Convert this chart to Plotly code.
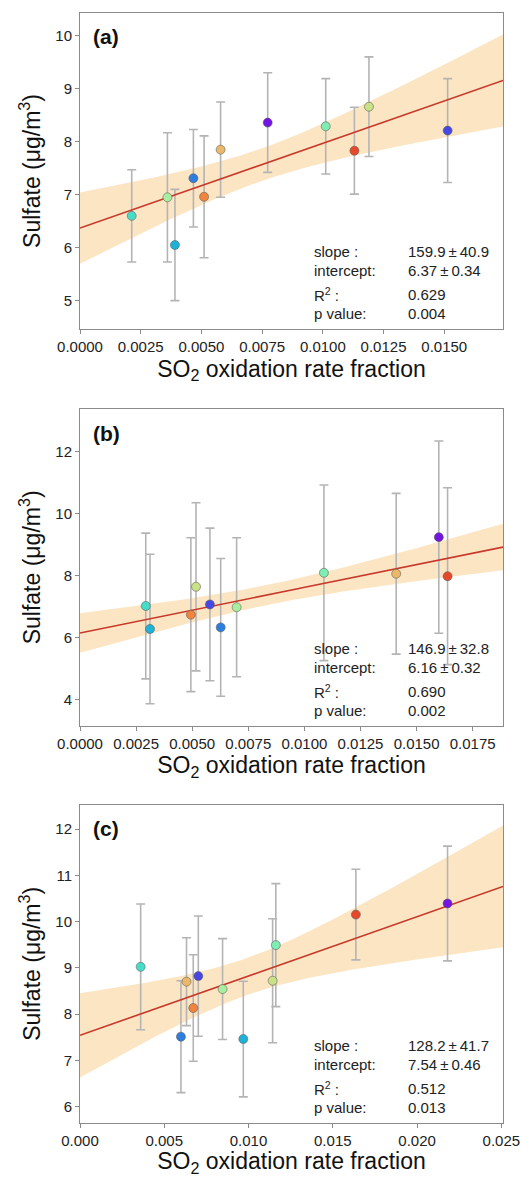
import numpy as np
import plotly.graph_objects as go

# ---------------- data ----------------
# Panel (a)
a_x = [0.00213, 0.00360, 0.00391, 0.00467, 0.00511, 0.00579, 0.00773, 0.01012, 0.01130, 0.01190, 0.01514]
a_y = [6.60, 6.95, 6.05, 7.31, 6.96, 7.85, 8.36, 8.29, 7.83, 8.66, 8.21]
a_err = [0.87, 1.22, 1.05, 0.92, 1.15, 0.90, 0.94, 0.90, 0.82, 0.94, 0.98]
a_col = ["turquoise", "lightgreen", "cyan", "blue", "orange", "lightorange", "purple", "aquamarine", "red", "yellowgreen", "blueviolet"]
a_stats = {"slope": 159.9, "slope_se": 40.9, "intercept": 6.37, "intercept_se": 0.34, "r2": "0.629", "p": "0.004"}

# Panel (b)
b_x = [0.00293, 0.00312, 0.00494, 0.00517, 0.00579, 0.00627, 0.00698, 0.01087, 0.01409, 0.01599, 0.01638]
b_y = [7.03, 6.29, 6.75, 7.65, 7.08, 6.34, 6.99, 8.10, 8.07, 9.25, 7.99]
b_err = [2.35, 2.41, 2.48, 2.71, 2.46, 2.22, 2.24, 2.83, 2.59, 3.10, 2.85]
b_col = ["turquoise", "cyan", "orange", "yellowgreen", "blueviolet", "blue", "lightgreen", "aquamarine", "lightorange", "purple", "red"]
b_stats = {"slope": 146.9, "slope_se": 32.8, "intercept": 6.16, "intercept_se": 0.32, "r2": "0.690", "p": "0.002"}

# Panel (c)
c_x = [0.00360, 0.00599, 0.00632, 0.00672, 0.00702, 0.00846, 0.00969, 0.01143, 0.01162, 0.01637, 0.02181]
c_y = [9.02, 7.51, 8.70, 8.13, 8.82, 8.54, 7.46, 8.72, 9.49, 10.15, 10.39]
c_err = [1.36, 1.21, 0.95, 1.15, 1.30, 1.09, 1.25, 1.34, 1.33, 0.98, 1.24]
c_col = ["turquoise", "blue", "lightorange", "orange", "blueviolet", "lightgreen", "cyan", "yellowgreen", "aquamarine", "red", "purple"]
c_stats = {"slope": 128.2, "slope_se": 41.7, "intercept": 7.54, "intercept_se": 0.46, "r2": "0.512", "p": "0.013"}

panel_labels = ["(a)", "(b)", "(c)"]
x_title = "SO<sub>2</sub> oxidation rate fraction"
y_title = "Sulfate (μg/m<sup>3</sup>)"

# ---------------- styles ----------------
palette = {
    "purple": "#7314E3", "blueviolet": "#4747E3", "blue": "#2D7EDF", "cyan": "#1FB2D9",
    "turquoise": "#46DCC8", "aquamarine": "#7DEDB2", "lightgreen": "#A8EEA0",
    "yellowgreen": "#C9E187", "lightorange": "#EAB86A", "orange": "#EF843F", "red": "#E6482A",
}
FONT = "Liberation Sans, Arial, Helvetica, sans-serif"
BAND = "#FCE5C3"
LINE = "#C8382A"
FRAME = "#8A8A8A"
T_MULT = 1.98

xranges = [[0, 0.01742], [0, 0.01885], [0, 0.0251]]
yranges = [[4.465, 10.43], [3.17, 13.38], [5.65, 12.52]]
xdticks = [0.0025, 0.0025, 0.005]
xfmts = [".4f", ".4f", ".3f"]
ydticks = [1, 2, 1]
ydomains = [[0.7205, 0.9890], [0.3834, 0.6525], [0.0461, 0.3161]]
xdomain = [80 / 521, 503 / 521]

panels = [
    (a_x, a_y, a_err, a_col, a_stats),
    (b_x, b_y, b_err, b_col, b_stats),
    (c_x, c_y, c_err, c_col, c_stats),
]

fig = go.Figure()
annotations = []

for i, (px, py, perr, pcol, st) in enumerate(panels):
    n = "" if i == 0 else str(i + 1)
    xa, ya = "x" + n, "y" + n
    xbar = float(np.mean(px))
    xs = np.linspace(xranges[i][0], xranges[i][1], 200)
    yfit = st["intercept"] + st["slope"] * xs
    var = st["intercept_se"] ** 2 + st["slope_se"] ** 2 * (xs ** 2 - 2 * xs * xbar)
    half = T_MULT * np.sqrt(np.clip(var, 0, None))
    # confidence band
    fig.add_trace(go.Scatter(x=xs, y=yfit + half, mode="lines", line=dict(width=0, color=BAND),
                             xaxis=xa, yaxis=ya, hoverinfo="skip"))
    fig.add_trace(go.Scatter(x=xs, y=yfit - half, mode="lines", line=dict(width=0, color=BAND),
                             fill="tonexty", fillcolor=BAND, xaxis=xa, yaxis=ya, hoverinfo="skip"))
    # error bars
    fig.add_trace(go.Scatter(x=px, y=py, mode="markers", marker=dict(size=1, opacity=0),
                             error_y=dict(type="data", array=perr, visible=True, color="#B4B4B4",
                                          thickness=1.6, width=4.5),
                             xaxis=xa, yaxis=ya))
    # regression line
    fig.add_trace(go.Scatter(x=xs, y=yfit, mode="lines", line=dict(color=LINE, width=1.6),
                             xaxis=xa, yaxis=ya))
    # points
    fig.add_trace(go.Scatter(x=px, y=py, mode="markers",
                             marker=dict(size=9, color=[palette[c] for c in pcol],
                                         line=dict(color="rgba(90,90,90,0.55)", width=1)),
                             xaxis=xa, yaxis=ya))

    fig.update_layout(**{
        "xaxis" + n: dict(domain=xdomain, anchor=ya, range=xranges[i], dtick=xdticks[i], tick0=0,
                          tickformat=xfmts[i], showline=True, mirror=True, linecolor=FRAME, linewidth=1,
                          ticks="outside", ticklen=4, tickcolor=FRAME, showgrid=False, zeroline=False,
                          tickfont=dict(family=FONT, size=15, color="#222"),
                          title=dict(text=x_title, font=dict(family=FONT, size=23, color="#111"), standoff=6),
                          automargin=False),
        "yaxis" + n: dict(domain=ydomains[i], anchor=xa, range=yranges[i], dtick=ydticks[i],
                          showline=True, mirror=True, linecolor=FRAME, linewidth=1,
                          ticks="outside", ticklen=4, tickcolor=FRAME, showgrid=False, zeroline=False,
                          tickfont=dict(family=FONT, size=15, color="#222"),
                          title=dict(text=y_title, font=dict(family=FONT, size=23, color="#111"), standoff=8),
                          automargin=False),
    })

    xd, yd = xa + " domain", ya + " domain"
    annotations.append(dict(text="<b>%s</b>" % panel_labels[i], xref=xd, yref=yd, x=0, y=1,
                            xanchor="left", yanchor="middle", xshift=11, yshift=-24, showarrow=False,
                            font=dict(family=FONT, size=21, color="#111")))
    labels = ["slope :", "intercept:", "R<sup>2</sup> :", "p value:"]
    values = ["%.1f\u2009±\u2009%.1f" % (st["slope"], st["slope_se"]),
              "%.2f\u2009±\u2009%.2f" % (st["intercept"], st["intercept_se"]),
              st["r2"], st["p"]]
    shifts = [77, 58, 34, 15]
    for lab, val, sh in zip(labels, values, shifts):
        annotations.append(dict(text=lab, xref=xd, yref=yd, x=0, y=0, xanchor="left", yanchor="middle",
                                xshift=232, yshift=sh, showarrow=False,
                                font=dict(family=FONT, size=15, color="#222")))
        annotations.append(dict(text=val, xref=xd, yref=yd, x=0, y=0, xanchor="left", yanchor="middle",
                                xshift=326, yshift=sh, showarrow=False,
                                font=dict(family=FONT, size=15, color="#222")))

fig.update_layout(width=521, height=1177, margin=dict(l=0, r=0, t=0, b=0),
                  paper_bgcolor="white", plot_bgcolor="white", showlegend=False,
                  annotations=annotations, font=dict(family=FONT))

fig.write_html("out.html", config={"displayModeBar": False},
               post_script="document.body.style.margin='0';document.body.style.padding='0';"
                           "document.documentElement.style.overflow='hidden';")
